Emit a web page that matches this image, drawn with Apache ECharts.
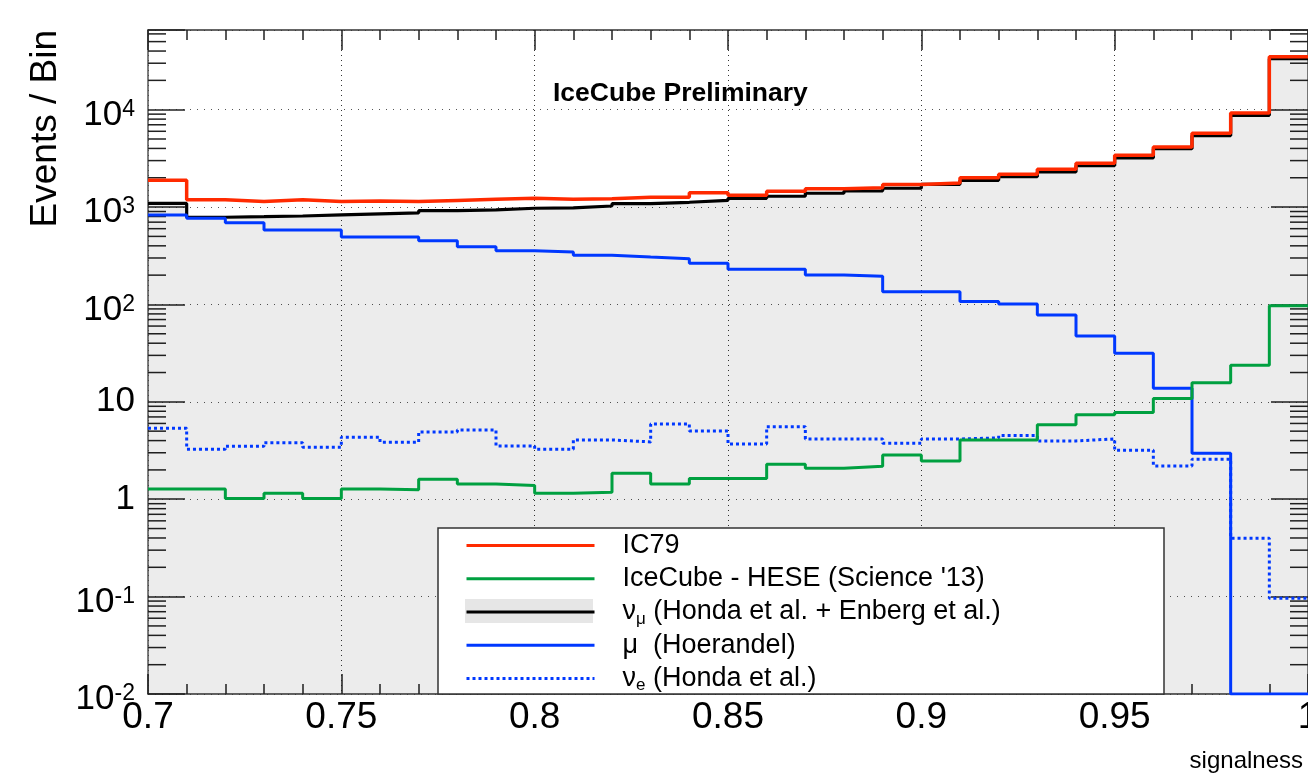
<!DOCTYPE html>
<html>
<head>
<meta charset="utf-8">
<title>IceCube signalness</title>
<script src="https://cdn.jsdelivr.net/npm/echarts@6/dist/echarts.min.js"></script>
<style>
  html, body { margin: 0; padding: 0; background: #fff; }
  #chart { width: 1308px; height: 776px; }
</style>
</head>
<body>
<div id="chart"></div>
<script>
const FONT = "'Liberation Sans', Arial, Helvetica, sans-serif";

// lower edge of each signalness bin (width 0.01), last edge closes the histogram
const binLow = [0.70, 0.71, 0.72, 0.73, 0.74, 0.75, 0.76, 0.77, 0.78, 0.79,
                0.80, 0.81, 0.82, 0.83, 0.84, 0.85, 0.86, 0.87, 0.88, 0.89,
                0.90, 0.91, 0.92, 0.93, 0.94, 0.95, 0.96, 0.97, 0.98, 0.99];
const xMax = 1.0;

// events per bin
const ic79 = [1880, 1190, 1140, 1190, 1140, 1155, 1140, 1170, 1200, 1230,
              1200, 1220, 1260, 1260, 1400, 1320, 1450, 1540, 1580, 1710,
              1770, 2000, 2170, 2440, 2820, 3400, 4140, 5720, 9250, 35000];
const hese = [1.27, 1.27, 1.02, 1.15, 1.02, 1.27, 1.25, 1.60, 1.43, 1.38,
              1.15, 1.18, 1.85, 1.43, 1.63, 1.63, 2.29, 2.08, 2.18, 2.85,
              2.47, 4.06, 4.06, 5.83, 7.39, 7.75, 10.8, 15.7, 23.8, 97.2];
const numu = [1090, 786, 797, 810, 830, 850, 870, 918, 934, 972,
              979, 1026, 1083, 1120, 1174, 1231, 1291, 1386, 1463, 1560,
              1714, 1884, 2052, 2293, 2661, 3192, 3978, 5410, 8760, 33400];
const mu   = [830, 767, 692, 582, 582, 493, 493, 452, 392, 357,
              345, 320, 307, 295, 265, 230, 230, 201, 195, 135,
              135, 107, 101, 78, 47.5, 31.5, 13.8, 2.97, 0.01, 0.01];
const nue  = [5.36, 3.26, 3.50, 3.81, 3.42, 4.33, 3.85, 4.91, 5.15, 3.53,
              3.26, 4.06, 3.88, 5.93, 5.02, 3.70, 5.56, 4.16, 4.16, 3.76,
              4.16, 4.26, 4.50, 3.97, 4.16, 3.19, 2.20, 2.58, 0.398, 0.096];

const yMin = 0.01, yMax = 65800;
const decades = [0.01, 0.1, 1, 10, 100, 1000, 10000];
const minorMult = [2, 3, 4, 5, 6, 7, 8, 9];

// every label gets a sub token so all legend rows have the same height
const legendLabels = {
  'IC79': 'IC79{sub| }',
  'HESE': "IceCube - HESE (Science '13){sub| }",
  'numu': 'ν{sub|μ} (Honda et al. + Enberg et al.)',
  'mu': 'μ  (Hoerandel){sub| }',
  'nue': 'ν{sub|e} (Honda et al.)'
};

function steps(vals) {
  const pts = binLow.map((x, i) => [x, vals[i]]);
  pts.push([xMax, vals[vals.length - 1]]);
  return pts;
}

const minorY = [];
decades.forEach(d => minorMult.forEach(m => {
  if (d * m < yMax) minorY.push([0.7, d * m]);
}));

let myChart = echarts.init(document.getElementById('chart'));

const xAxisBase = {
  type: 'value',
  min: 0.7,
  max: xMax,
  interval: 0.05,
  axisLine: { show: true, onZero: false, lineStyle: { color: '#333', width: 1.5 } },
  axisTick: { show: true, inside: true, length: 20, lineStyle: { color: '#222', width: 1.5 } },
  minorTick: { show: true, splitNumber: 5, length: 10, lineStyle: { color: '#222', width: 1.5 } },
  splitLine: { show: false }
};
const yAxisBase = {
  type: 'log',
  logBase: 10,
  min: yMin,
  max: yMax,
  axisLine: { show: true, lineStyle: { color: '#555', width: 1.5 } },
  axisTick: { show: true, inside: true, length: 37, lineStyle: { color: '#222', width: 1.5 } },
  splitLine: { show: false }
};

function line(name, vals, color, width, type) {
  return {
    name: name,
    type: 'line',
    step: 'end',
    data: steps(vals),
    symbol: 'none',
    silent: true,
    lineStyle: { color: color, width: width, type: type || 'solid' },
    itemStyle: { color: color }
  };
}

const numuSeries = line('numu', numu, '#000', 3.2);
numuSeries.areaStyle = { origin: 'start', color: 'rgba(0,0,0,0.105)' };

let option = {
  animation: false,
  backgroundColor: '#fff',
  title: {
    text: 'IceCube Preliminary',
    left: 553,
    top: 81,
    padding: 0,
    textStyle: { fontFamily: FONT, fontSize: 26.5, fontWeight: 'bold', color: '#000', lineHeight: 26 }
  },
  grid: { left: 148, right: 0, top: 30, bottom: 82, outerBoundsMode: 'none' },
  xAxis: [
    Object.assign({}, xAxisBase, {
      position: 'bottom',
      axisLabel: {
        margin: 5,
        fontFamily: FONT,
        fontSize: 37,
        color: '#000',
        formatter: v => String(+v.toFixed(2))
      },
      splitLine: { show: true, lineStyle: { color: '#333', width: 1, type: [1, 4] } }
    }),
    Object.assign({}, xAxisBase, { position: 'top', axisLabel: { show: false } })
  ],
  yAxis: [
    Object.assign({}, yAxisBase, {
      position: 'left',
      axisLabel: {
        margin: 13,
        fontFamily: FONT,
        fontSize: 35,
        color: '#000',
        formatter: v => {
          const e = Math.log10(v);
          const r = Math.round(e);
          if (Math.abs(e - r) > 1e-6) return '';
          if (r === 0) return '1';
          if (r === 1) return '10';
          return '{b|10}{sup|' + r + '}';
        },
        rich: {
          b: { fontFamily: FONT, fontSize: 35, color: '#000', padding: [11, 0, 0, 0] },
          sup: { fontFamily: FONT, fontSize: 23, color: '#000' }
        }
      },
      splitLine: { show: true, lineStyle: { color: '#555', width: 1, type: [1, 6] } }
    }),
    Object.assign({}, yAxisBase, { position: 'right', axisLabel: { show: false } })
  ],
  legend: {
    orient: 'vertical',
    left: 465,
    top: 530,
    itemWidth: 128,
    itemHeight: 24,
    itemGap: 2.25,
    padding: 0,
    z: 60,
    selectedMode: false,
    data: ['IC79', 'HESE', 'numu', 'mu', 'nue'],
    formatter: name => legendLabels[name],
    itemStyle: { opacity: 0 },
    lineStyle: { width: 3 },
    textStyle: {
      fontFamily: FONT,
      fontSize: 27,
      color: '#000',
      lineHeight: 24,
      padding: [0, 0, 0, 23],
      rich: {
        sub: { fontFamily: FONT, fontSize: 17, color: '#000', lineHeight: 24, padding: [14, 0, 0, 0] }
      }
    }
  },
  graphic: [
    {
      type: 'rect', z: 50,
      shape: { x: 438, y: 528, width: 726, height: 166 },
      style: { fill: '#fff', stroke: '#333', lineWidth: 1.5 }
    },
    {
      type: 'rect', z: 51,
      shape: { x: 465, y: 599, width: 128, height: 24 },
      style: { fill: '#e6e6e6' }
    },
    {
      type: 'text', x: 46, y: 30, rotation: Math.PI / 2,
      style: { text: 'Events / Bin', fontFamily: FONT, fontSize: 37, fill: '#000', align: 'right', verticalAlign: 'middle' }
    },
    {
      type: 'text', x: 1303, y: 773,
      style: { text: 'signalness', fontFamily: FONT, fontSize: 24, fill: '#000', align: 'right', verticalAlign: 'bottom' }
    }
  ],
  series: [
    numuSeries,
    line('nue', nue, '#0038ff', 3, [3, 3]),
    line('mu', mu, '#0038ff', 3),
    line('HESE', hese, '#00a040', 3),
    line('IC79', ic79, '#ff2a00', 3.5),
    {
      // minor log ticks (2..9 x decade) on both vertical frame sides
      type: 'custom',
      silent: true,
      data: minorY,
      renderItem: function (params, api) {
        const pL = api.coord([0.7, api.value(1)]);
        const pR = api.coord([xMax, api.value(1)]);
        return {
          type: 'group',
          children: [
            { type: 'line', shape: { x1: pL[0], y1: pL[1], x2: pL[0] + 18, y2: pL[1] }, style: { stroke: '#222', lineWidth: 1.5 } },
            { type: 'line', shape: { x1: pR[0], y1: pR[1], x2: pR[0] - 18, y2: pR[1] }, style: { stroke: '#222', lineWidth: 1.5 } }
          ]
        };
      }
    }
  ]
};

myChart.setOption(option);
window.addEventListener('resize', () => {
  myChart.resize();
});
</script>
</body>
</html>
